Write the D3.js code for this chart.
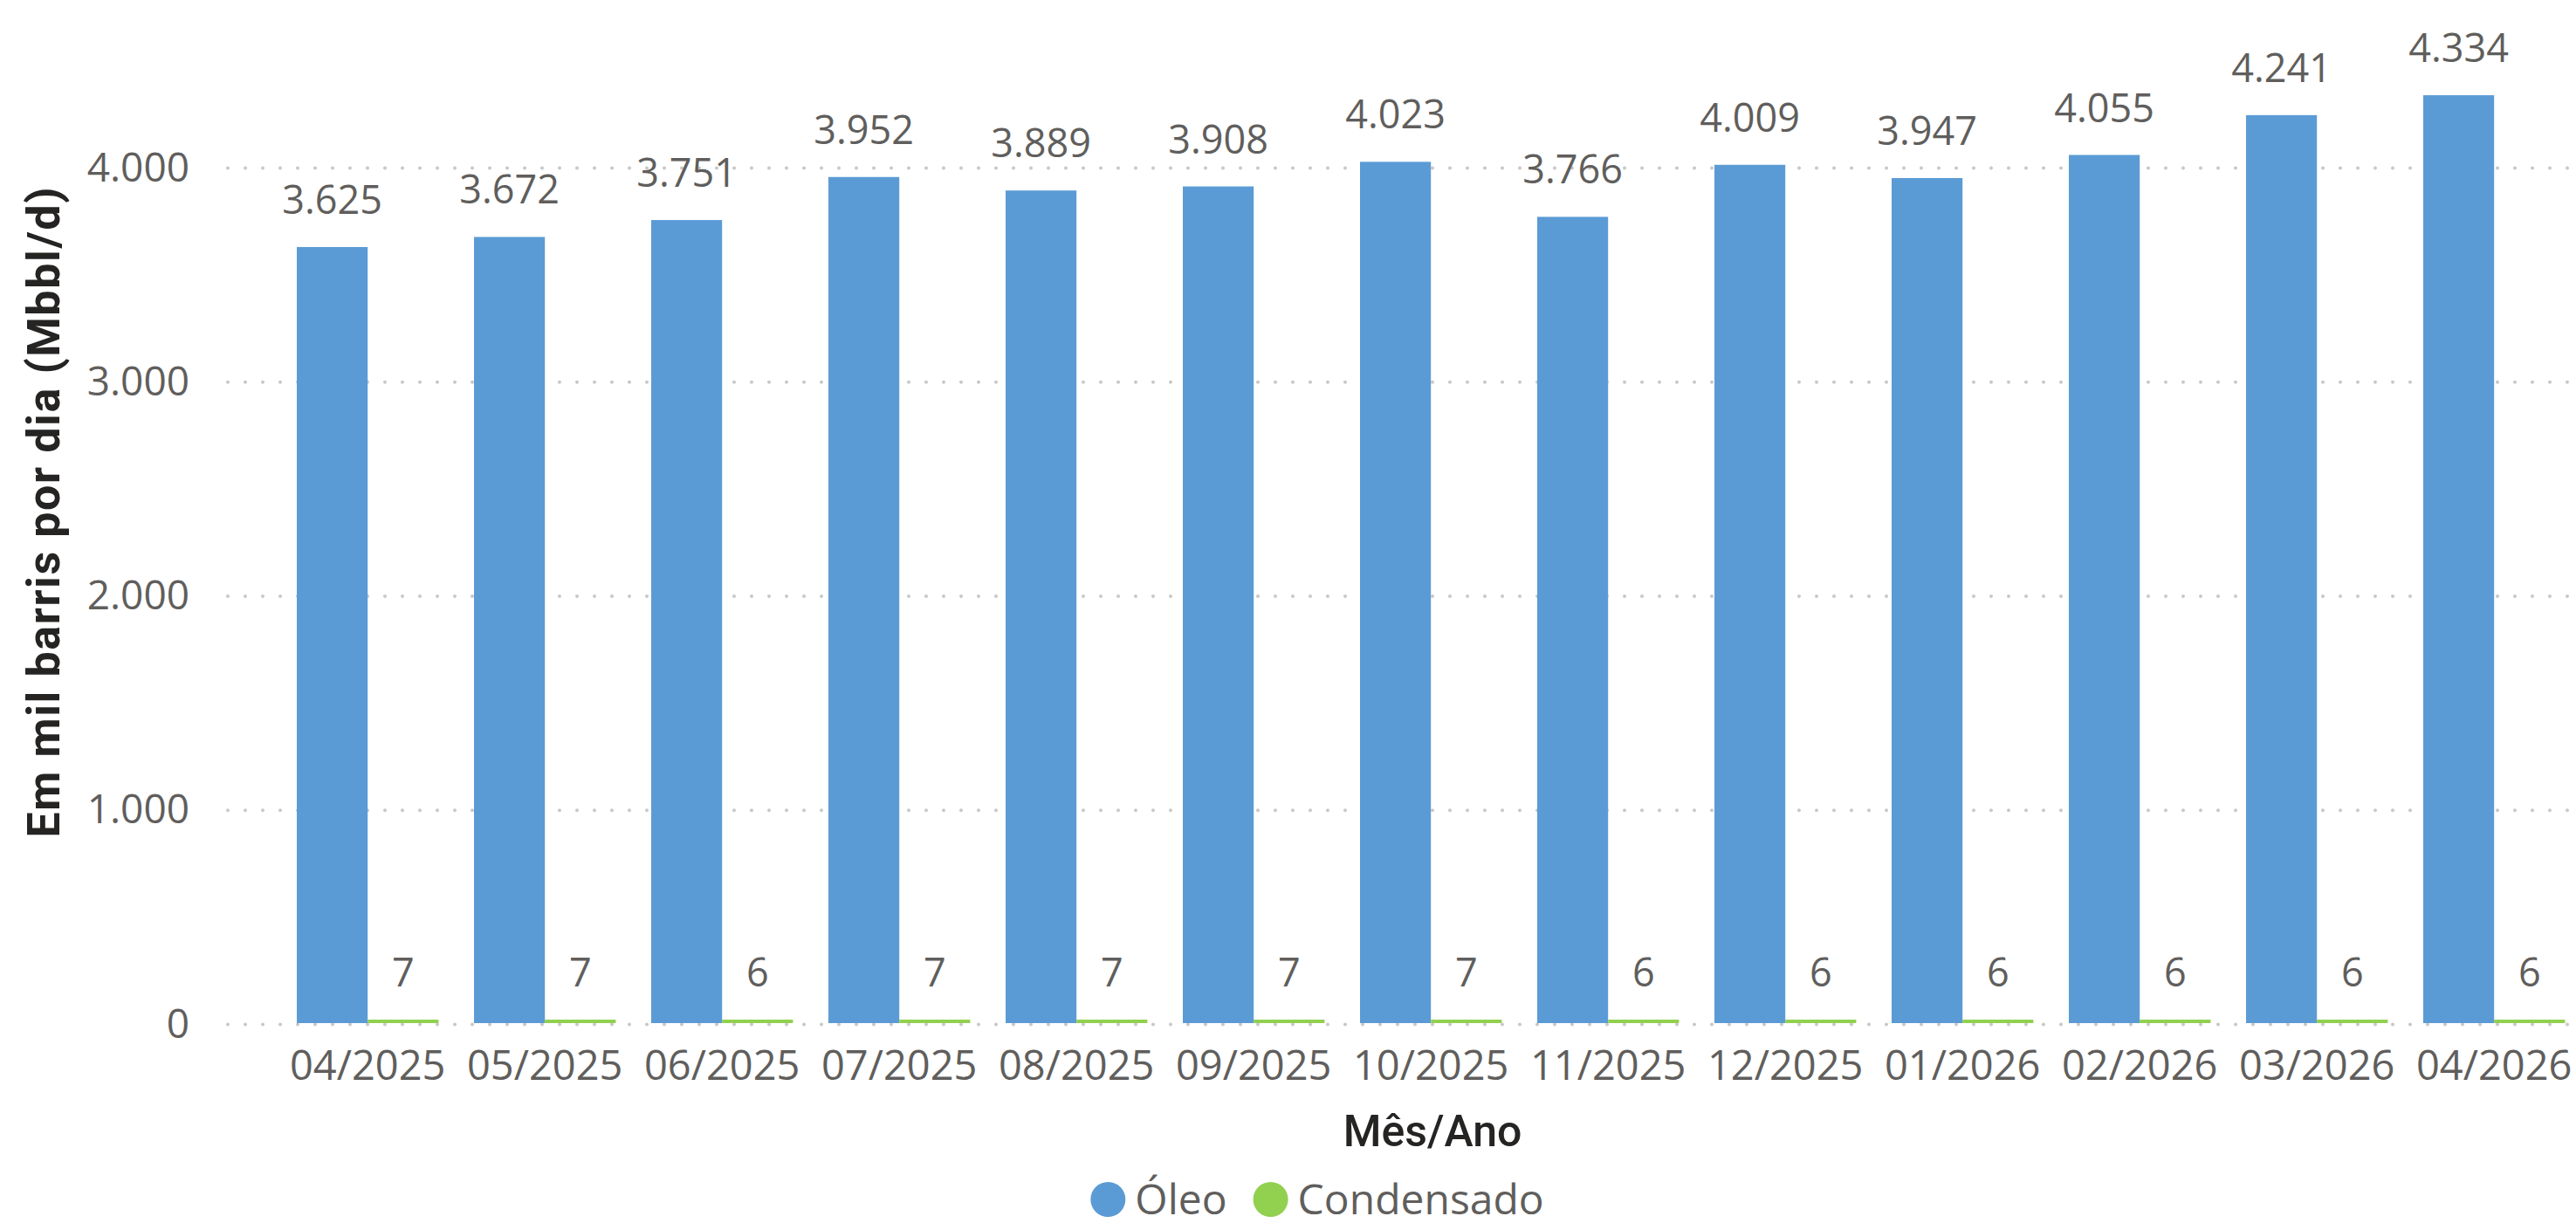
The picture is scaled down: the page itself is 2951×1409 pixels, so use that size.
<!DOCTYPE html>
<html>
<head>
<meta charset="utf-8">
<script src="https://cdn.jsdelivr.net/npm/d3@7"></script>
<style>
  body { margin: 0; background: #fff; }
</style>
</head>
<body>
<div id="container"></div>
<script>
// colors
let blue = "#5B9BD5";
let green = "#92D050";
let labelGray = "#605E5C";
let titleDark = "#252423";

// data
let months = ["04/2025", "05/2025", "06/2025", "07/2025", "08/2025", "09/2025", "10/2025",
  "11/2025", "12/2025", "01/2026", "02/2026", "03/2026", "04/2026"];
let oleo = [3625, 3672, 3751, 3952, 3889, 3908, 4023, 3766, 4009, 3947, 4055, 4241, 4334];
let condensado = [7, 7, 6, 7, 7, 7, 7, 6, 6, 6, 6, 6, 6];
let yTicks = [0, 1000, 2000, 3000, 4000];
let seriesNames = ["Óleo", "Condensado"];
let seriesColors = [blue, green];

let ptBR = d3.formatLocale({ decimal: ",", thousands: ".", grouping: [3], currency: ["R$", ""] });
let fmt = ptBR.format(",d");

let W = 2951, H = 1409;
let font = "'Segoe UI', 'Open Sans', 'Noto Sans', sans-serif";

let viz = d3.select("#container")
  .append("svg")
    .attr("width", W)
    .attr("height", H)
    .style("background-color", "white")
;

let x = d3.scaleBand()
  .domain(months)
  .range([319.7, 2958.7])
  .paddingInner(0.2)
  .paddingOuter(0.1)
;

let xs = d3.scaleBand()
  .domain(seriesNames)
  .range([0, x.bandwidth()])
;

let y = d3.scaleLinear()
  .domain([0, 4000])
  .range([1172, 191])
;

// dotted gridlines
viz.append("g")
  .selectAll("line")
  .data(yTicks)
  .join("line")
    .attr("x1", 261)
    .attr("x2", 2946)
    .attr("y1", d => y(d) + 1.5)
    .attr("y2", d => y(d) + 1.5)
    .attr("stroke", "#C8C8C8")
    .attr("stroke-width", 4)
    .attr("stroke-linecap", "round")
    .attr("stroke-dasharray", "0,20")
;

// y axis labels
let yAxis = d3.axisLeft(y).tickValues(yTicks).tickFormat(fmt).tickSize(0).tickPadding(0);
let gy = viz.append("g")
  .attr("transform", "translate(217,0)")
  .call(yAxis);
gy.select(".domain").remove();
gy.selectAll("text")
  .attr("font-family", font)
  .attr("font-size", 46)
  .attr("fill", labelGray)
  .attr("dy", "0.35em");

// x axis labels
let xAxis = d3.axisBottom(x).tickSize(0).tickPadding(0);
let gx = viz.append("g")
  .attr("transform", "translate(0,1237)")
  .call(xAxis);
gx.select(".domain").remove();
gx.selectAll("text")
  .attr("font-family", font)
  .attr("font-size", 47)
  .attr("fill", labelGray)
  .attr("dy", 0);

// bars
let rows = months.map((m, i) => ({ m: m, vals: [oleo[i], condensado[i]] }));

let groups = viz.append("g")
  .selectAll("g")
  .data(rows)
  .join("g")
    .attr("transform", d => "translate(" + x(d.m) + ",0)")
;

groups.selectAll("rect")
  .data(d => d.vals.map((v, j) => ({ name: seriesNames[j], v: v, c: seriesColors[j] })))
  .join("rect")
    .attr("x", d => xs(d.name))
    .attr("width", xs.bandwidth())
    .attr("y", d => Math.min(y(d.v), y(0) - 4))
    .attr("height", d => Math.max(y(0) - y(d.v), 4))
    .attr("fill", d => d.c)
;

groups.selectAll("text")
  .data(d => d.vals.map((v, j) => ({ name: seriesNames[j], v: v })))
  .join("text")
    .text(d => fmt(d.v))
    .attr("x", d => xs(d.name) + xs.bandwidth() / 2)
    .attr("y", d => Math.min(y(d.v), y(0) - 4) - 38)
    .attr("text-anchor", "middle")
    .attr("font-family", font)
    .attr("font-size", 45)
    .attr("fill", labelGray)
;

// axis titles
viz.append("text")
  .text("Em mil barris por dia (Mbbl/d)")
  .attr("transform", "translate(68,587) rotate(-90)")
  .attr("text-anchor", "middle")
  .attr("font-family", "Roboto, 'DejaVu Sans', sans-serif")
  .attr("font-weight", "bold")
  .attr("font-size", 52)
  .attr("textLength", 745)
  .attr("lengthAdjust", "spacing")
  .attr("fill", titleDark)
;

viz.append("text")
  .text("Mês/Ano")
  .attr("x", 1641)
  .attr("y", 1313)
  .attr("text-anchor", "middle")
  .attr("font-family", "Roboto, 'DejaVu Sans', sans-serif")
  .attr("font-weight", 500)
  .attr("font-size", 50)
  .attr("fill", titleDark)
;

// legend
let legend = viz.append("g");
let lx = 0;
seriesNames.forEach((name, i) => {
  legend.append("circle")
    .attr("cx", lx + 20)
    .attr("cy", 1374)
    .attr("r", 20)
    .attr("fill", seriesColors[i]);
  let t = legend.append("text")
    .text(name)
    .attr("x", lx + 51)
    .attr("y", 1391)
    .attr("font-family", font)
    .attr("font-size", 48)
    .attr("fill", labelGray);
  lx = lx + 51 + t.node().getComputedTextLength() + 30;
});
let lw = lx - 30;
legend.attr("transform", "translate(" + (1509 - lw / 2) + ",0)");
</script>
</body>
</html>
